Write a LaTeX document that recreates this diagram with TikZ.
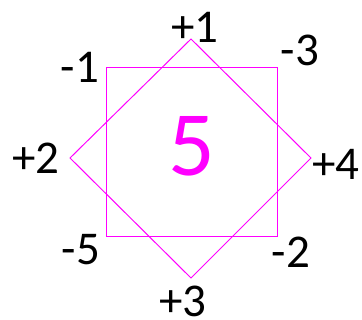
\documentclass[tikz,border=0pt]{standalone}
\usepackage{fontspec}
\setmainfont{Carlito}
\usetikzlibrary{positioning}
\definecolor{pinkline}{RGB}{255,0,255}

\begin{document}
\begin{tikzpicture}[
    x=1pt, y=-1pt,
    sign/.style={inner sep=0pt, font=\fontsize{47}{47}\selectfont},
    total/.style={inner sep=0pt, text=pinkline, font=\fontsize{92}{92}\selectfont},
    frame/.style={draw=pinkline, line width=1pt},
]
\useasboundingbox (0,0) rectangle (362,320);

% Square corners
\coordinate (sq1) at (106,68);
\coordinate (sq2) at (277,68);
\coordinate (sq3) at (277,237);
\coordinate (sq4) at (106,237);

% Diamond corners
\coordinate (dm1) at (191,39);
\coordinate (dm2) at (311,158);
\coordinate (dm3) at (191,278);
\coordinate (dm4) at (70,158);

\draw[frame] (sq1) -- (sq2) -- (sq3) -- (sq4) -- cycle;
\draw[frame] (dm1) -- (dm2) -- (dm3) -- (dm4) -- cycle;

% Labels
\node[sign] (p1) at (195,27)  {+1};
\node[sign] (m3) at (300,50)  {-3};
\node[sign] (m1) at (80,67)   {-1};
\node[sign] (p2) at (36,158)  {+2};
\node[sign] (p4) at (336,164) {+4};
\node[sign] (m5) at (81,250)  {-5};
\node[sign] (m2) at (291,252) {-2};
\node[sign] (p3) at (183,301) {+3};

\node[total] (sum) at (192,146) {5};

\end{tikzpicture}
\end{document}
